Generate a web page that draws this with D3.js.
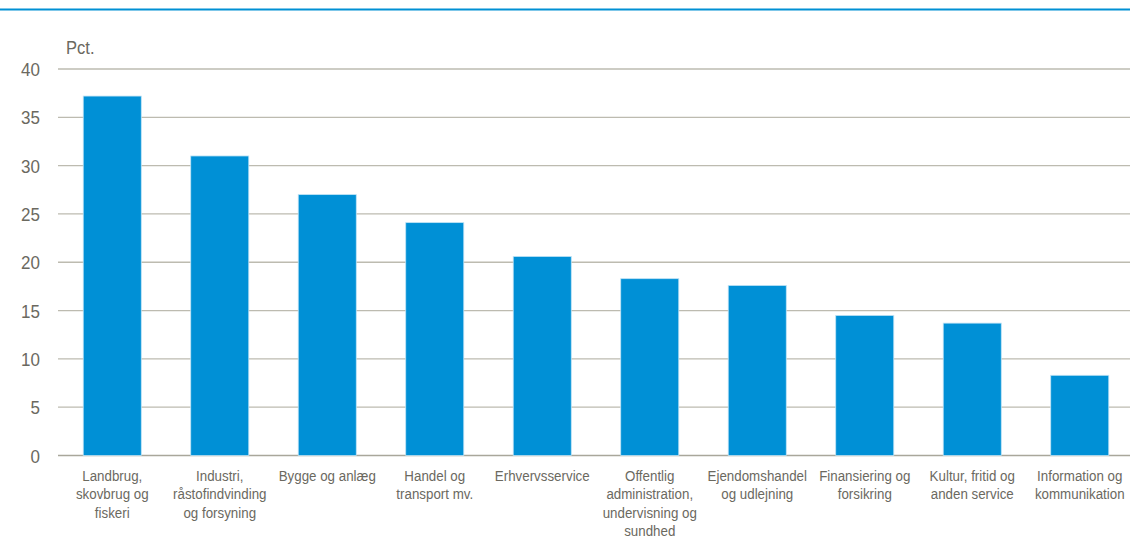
<!DOCTYPE html>
<html>
<head>
<meta charset="utf-8">
<script src="https://cdn.jsdelivr.net/npm/d3@7"></script>
<style>
html,body{margin:0;padding:0;background:#fff;}
svg{display:block;}
text{font-family:"Liberation Sans",Arial,sans-serif;fill:#6b695f;}
</style>
</head>
<body>
<svg id="chart" width="1130" height="542"></svg>
<script>
const categories = [
  ["Landbrug,","skovbrug og","fiskeri"],
  ["Industri,","råstofindvinding","og forsyning"],
  ["Bygge og anlæg"],
  ["Handel og","transport mv."],
  ["Erhvervsservice"],
  ["Offentlig","administration,","undervisning og","sundhed"],
  ["Ejendomshandel","og udlejning"],
  ["Finansiering og","forsikring"],
  ["Kultur, fritid og","anden service"],
  ["Information og","kommunikation"]
];
const values = [37.2, 31.0, 27.0, 24.1, 20.6, 18.3, 17.6, 14.5, 13.7, 8.3];
const yTicks = [0, 5, 10, 15, 20, 25, 30, 35, 40];
const yUnit = "Pct.";

const svg = d3.select("#chart");
const plotLeft = 58, plotRight = 1130, y0 = 455.5, y40 = 69;

// top rule
svg.append("line").attr("x1",0).attr("x2",1130).attr("y1",9.5).attr("y2",9.5)
  .attr("stroke","#0090d4").attr("stroke-width",2);

const x = d3.scaleBand().domain(d3.range(categories.length))
  .range([58.5, 1133.5]).paddingInner(0.46).paddingOuter(0.23);
const y = d3.scaleLinear().domain([0,40]).range([y0, y40]);

// gridlines
svg.append("g").selectAll("line").data(yTicks).join("line")
  .attr("x1",plotLeft).attr("x2",plotRight)
  .attr("y1",d=>y(d)).attr("y2",d=>y(d))
  .attr("stroke", d=> d===0 ? "#a9a79b" : "#bdbbb0").attr("stroke-width",1.3);

// y axis labels
const yAxis = d3.axisLeft(y).tickValues(yTicks).tickSize(0).tickPadding(0);
const gy = svg.append("g").attr("transform","translate(40,0)").call(yAxis);
gy.select(".domain").remove();
gy.selectAll(".tick text").attr("font-size","18.5px").style("fill","#6b695f")
  .attr("font-family","Liberation Sans, Arial, sans-serif").attr("dy","0.36em")
  .attr("transform","scale(0.92,1)");

svg.append("text").attr("transform","translate(66,54) scale(0.92,1)")
  .attr("font-size","18px").text(yUnit);

// bars
svg.append("g").selectAll("rect").data(values).join("rect")
  .attr("x",(d,i)=>x(i)).attr("width",x.bandwidth())
  .attr("y",d=>y(d)).attr("height",d=>y(0)-y(d))
  .attr("fill","#0090d6").attr("stroke","#bfe3f5").attr("stroke-width",0.8);

// category labels
const lab = svg.append("g").selectAll("text").data(categories).join("text")
  .attr("text-anchor","middle").attr("font-size","15px")
  .attr("transform",(d,i)=>`translate(${x(i)+x.bandwidth()/2},481) scale(0.89,1)`);
lab.selectAll("tspan").data(d=>d).join("tspan")
  .attr("x",0).attr("dy",(d,j)=> j===0 ? 0 : 18.4).text(d=>d);
</script>
</body>
</html>
